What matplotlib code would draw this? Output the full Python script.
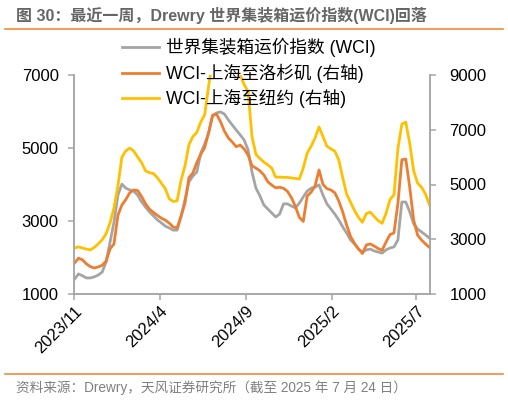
import numpy as np
import pandas as pd
import matplotlib
matplotlib.use("Agg")
from matplotlib import pyplot as plt
import matplotlib.dates as mdates

plt.rcParams['font.family'] = ['Liberation Sans', 'Noto Sans CJK SC']
plt.rcParams['axes.unicode_minus'] = False

# weekly data, 2023-11-02 .. 2025-07-24
dates = pd.date_range('2023-11-02', periods=91, freq='7D')

wci = [1410, 1550, 1500, 1440, 1440, 1470, 1520, 1600, 1880, 2420,
       2970, 3710, 4010, 3900, 3850, 3820, 3710, 3520, 3380, 3250,
       3140, 3030, 2950, 2860, 2810, 2750, 2750, 3110, 3580, 4070,
       4230, 4340, 4860, 5110, 5410, 5880, 5960, 5990, 5930, 5770,
       5630, 5490, 5360, 5220, 4950, 4340, 3900, 3690, 3440, 3330,
       3220, 3110, 3190, 3470, 3470, 3410, 3360, 3490, 3660, 3820,
       3900, 3930, 3990, 3710, 3470, 3330, 3190, 3030, 2840, 2670,
       2480, 2370, 2230, 2150, 2210, 2230, 2180, 2150, 2120, 2210,
       2260, 2290, 2480, 3520, 3520, 3250, 2920, 2780, 2700, 2620,
       2530]

sh_la = [2130, 2310, 2250, 2100, 2000, 1950, 1990, 2050, 2200, 2650,
         2830, 3880, 4250, 4450, 4700, 4800, 4780, 4560, 4300, 4100,
         3980, 3870, 3770, 3700, 3590, 3450, 3410, 3850, 4320, 5250,
         5420, 5800, 6100, 6350, 6900, 7530, 7570, 7300, 6950, 6700,
         6550, 6380, 6440, 6300, 6080, 5680, 5600, 5500, 5350, 5100,
         4980, 4880, 4900, 4860, 4750, 4520, 4200, 3800, 3650, 4580,
         4720, 4950, 5530, 5000, 4850, 4800, 4700, 4400, 4000, 3520,
         3100, 2850, 2650, 2480, 2790, 2830, 2750, 2660, 2600, 2900,
         3170, 3230, 4300, 5900, 5930, 4900, 3700, 3150, 2970, 2830,
         2700]

sh_ny = [2680, 2720, 2680, 2640, 2610, 2700, 2830, 2980, 3200, 3600,
         4150, 4950, 6000, 6230, 6330, 6220, 6000, 5800, 5500, 5430,
         5400, 5250, 5050, 4850, 4480, 4380, 4400, 5150, 5680, 6450,
         6750, 6900, 7280, 7550, 8600, 9500, 9600, 9700, 9500, 9400,
         9300, 9100, 9000, 8650, 8400, 6750, 6100, 5950, 5820, 5720,
         5600, 5270, 5270, 5260, 5260, 5240, 5220, 5200, 5600, 6150,
         6400, 6700, 7100, 6750, 6400, 6300, 6220, 5900, 5250, 4650,
         4350, 4050, 3800, 3620, 3940, 3990, 3830, 3680, 3580, 3950,
         4450, 4620, 6300, 7200, 7280, 6500, 5500, 5050, 4900, 4650,
         4250]

labels = ['世界集装箱运价指数 (WCI)', 'WCI-上海至洛杉矶 (右轴)', 'WCI-上海至纽约 (右轴)']
colors = ['#A5A5A5', '#ED7D31', '#FFC000']
xticks = pd.to_datetime(['2023-11-01', '2024-04-01', '2024-09-01', '2025-02-01', '2025-07-01'])

fig = plt.figure(figsize=(5.08, 4.05), dpi=100)
ax = fig.add_axes([74/508, 1 - 294/405, (430-74)/508, (294-75)/405])
ax2 = ax.twinx()

l1, = ax.plot(dates, wci, color=colors[0], lw=2.0, label=labels[0])
l2, = ax2.plot(dates, sh_la, color=colors[1], lw=2.0, label=labels[1])
l3, = ax2.plot(dates, sh_ny, color=colors[2], lw=2.0, label=labels[2])

ax.set_xlim(pd.Timestamp('2023-11-01'), pd.Timestamp('2025-07-25'))
ax.set_ylim(1000, 7000)
ax.set_yticks([1000, 3000, 5000, 7000])
ax2.set_ylim(1000, 9000)
ax2.set_yticks([1000, 3000, 5000, 7000, 9000])
ax.set_xticks(xticks)
ax.set_xticklabels([f'{d.year}/{d.month}' for d in xticks], rotation=45,
                   ha='right', rotation_mode='anchor')

spine_c = '#A6A6A6'
for a in (ax, ax2):
    a.spines['top'].set_visible(False)
    for s in ('left', 'right', 'bottom'):
        a.spines[s].set_color(spine_c)
        a.spines[s].set_linewidth(1.1)
    a.tick_params(colors=spine_c, labelcolor='black', labelsize=12, length=4, width=1.1)
ax.tick_params(axis='y', pad=7)
ax2.tick_params(axis='y', pad=10)
ax.tick_params(axis='x', pad=3)

fig.legend(handles=[l1, l2, l3], loc='upper left', bbox_to_anchor=(122/508, 1 - 38/405),
           frameon=False, fontsize=12.7, handlelength=2.1, handletextpad=0.42,
           labelspacing=0.36, borderpad=0, borderaxespad=0)

orange = '#F08A38'
fig.add_artist(plt.Line2D([5/508, 503/508], [1 - 29/405, 1 - 29/405], color=orange, lw=1.2))
fig.add_artist(plt.Line2D([5/508, 503/508], [1 - 374/405, 1 - 374/405], color=orange, lw=1.2))
fig.text(16/508, 1 - 15/405, '图 30：最近一周，Drewry 世界集装箱运价指数(WCI)回落', fontsize=11.5,
         color='#666666', fontweight='bold', va='center', ha='left')
fig.text(16/508, 1 - 388/405, '资料来源：Drewry，天风证券研究所（截至 2025 年 7 月 24 日）', fontsize=9.8,
         color='#808080', va='center', ha='left')

fig.savefig('out.png', dpi=100)
